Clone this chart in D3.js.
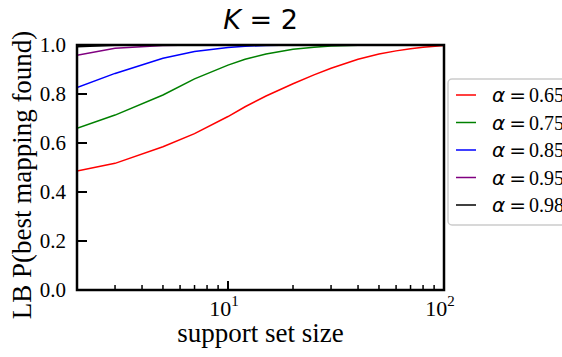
<!DOCTYPE html>
<html>
<head>
<meta charset="utf-8">
<script src="https://cdn.jsdelivr.net/npm/d3@7"></script>
<style>
  body { margin: 0; background: #fff; }
  svg { display: block; }
</style>
</head>
<body>
<div id="chart"></div>
<script>
// support set sizes sampled
const sizes = [2, 3, 5, 7, 10, 12, 15, 20, 25, 30, 40, 50, 60, 70, 80, 100];

// lower bound of P(best mapping found) per alpha
const p065 = [0.486, 0.517, 0.585, 0.638, 0.708, 0.748, 0.792, 0.842, 0.878, 0.905, 0.942, 0.963, 0.976, 0.985, 0.991, 0.998];
const p075 = [0.66, 0.714, 0.796, 0.862, 0.918, 0.942, 0.963, 0.983, 0.991, 0.996, 0.999, 1, 1, 1, 1, 1];
const p085 = [0.826, 0.884, 0.946, 0.973, 0.99, 0.995, 0.998, 1, 1, 1, 1, 1, 1, 1, 1, 1];
const p095 = [0.958, 0.987, 0.998, 1, 1, 1, 1, 1, 1, 1, 1, 1, 1, 1, 1, 1];
const p098 = [0.993, 0.999, 1, 1, 1, 1, 1, 1, 1, 1, 1, 1, 1, 1, 1, 1];

const seriesNames = ["0.65", "0.75", "0.85", "0.95", "0.98"];
const seriesValues = [p065, p075, p085, p095, p098];
const colors = ["#ff0000", "#008000", "#0000ff", "#800080", "#000000"];

const yTicks = [0, 0.2, 0.4, 0.6, 0.8, 1.0];
const xMajor = [10, 100];
const xMinor = [3, 4, 5, 6, 7, 8, 9, 20, 30, 40, 50, 60, 70, 80, 90];

const W = 562, H = 357;
const margin = { left: 77, right: 118, top: 45, bottom: 67 };
const width = W - margin.left - margin.right;
const height = H - margin.top - margin.bottom;

const svg = d3.select("#chart").append("svg")
    .attr("width", W)
    .attr("height", H);

const x = d3.scaleLog().domain([2, 100]).range([0, width]);
const y = d3.scaleLinear().domain([0, 1]).range([height, 0]);

const chart = svg.append("g")
    .attr("transform", `translate(${margin.left},${margin.top})`);

chart.append("clipPath").attr("id", "clip")
    .append("rect").attr("width", width).attr("height", height);

// curves
const line = d3.line()
    .x((d, i) => x(sizes[i]))
    .y(d => y(d));

chart.append("g").attr("clip-path", "url(#clip)")
    .selectAll("path")
    .data(seriesValues)
    .join("path")
    .attr("fill", "none")
    .attr("stroke", (d, i) => colors[i])
    .attr("stroke-width", 1.5)
    .attr("d", line);

// y ticks (inward)
chart.append("g").selectAll("line")
    .data(yTicks)
    .join("line")
    .attr("x1", 0).attr("x2", 10)
    .attr("y1", d => y(d)).attr("y2", d => y(d))
    .attr("stroke", "#000").attr("stroke-width", 2);

chart.append("g").selectAll("text")
    .data(yTicks)
    .join("text")
    .attr("x", -11)
    .attr("y", d => y(d))
    .attr("dy", "0.35em")
    .attr("text-anchor", "end")
    .attr("font-family", "Liberation Serif, serif")
    .attr("font-size", 21)
    .text(d => d.toFixed(1));

// x ticks (inward)
chart.append("g").selectAll("line")
    .data(xMajor)
    .join("line")
    .attr("x1", d => x(d)).attr("x2", d => x(d))
    .attr("y1", height).attr("y2", height - 9)
    .attr("stroke", "#000").attr("stroke-width", 2);

chart.append("g").selectAll("line")
    .data(xMinor)
    .join("line")
    .attr("x1", d => x(d)).attr("x2", d => x(d))
    .attr("y1", height).attr("y2", height - 5)
    .attr("stroke", "#000").attr("stroke-width", 1.5);

const xl = chart.append("g").selectAll("text")
    .data(xMajor)
    .join("text")
    .attr("x", d => x(d) - 4)
    .attr("y", height + 26)
    .attr("text-anchor", "middle")
    .attr("font-family", "Liberation Serif, serif")
    .attr("font-size", 22);
xl.append("tspan").text("10");
xl.append("tspan")
    .attr("dy", -10)
    .attr("font-size", 15)
    .text(d => Math.round(Math.log10(d)));

// frame
chart.append("rect")
    .attr("width", width).attr("height", height)
    .attr("fill", "none")
    .attr("stroke", "#000")
    .attr("stroke-width", 2.5);

// title
const title = svg.append("text")
    .attr("x", margin.left + width / 2)
    .attr("y", 29)
    .attr("text-anchor", "middle")
    .attr("font-family", "DejaVu Sans, sans-serif")
    .attr("font-size", 27);
title.append("tspan").attr("font-style", "italic").text("K");
title.append("tspan").text(" = 2");

// axis labels
svg.append("text")
    .attr("x", margin.left + width / 2)
    .attr("y", 342)
    .attr("text-anchor", "middle")
    .attr("font-family", "Liberation Serif, serif")
    .attr("font-size", 27)
    .text("support set size");

svg.append("text")
    .attr("transform", "translate(31,175) rotate(-90)")
    .attr("text-anchor", "middle")
    .attr("font-family", "Liberation Serif, serif")
    .attr("font-size", 27)
    .text("LB P(best mapping found)");

// legend
const legend = svg.append("g").attr("transform", "translate(448,79)");
legend.append("rect")
    .attr("width", 140).attr("height", 146)
    .attr("rx", 4)
    .attr("fill", "#fff")
    .attr("fill-opacity", 0.8)
    .attr("stroke", "#cccccc")
    .attr("stroke-width", 1.5);

const rows = legend.selectAll("g.row")
    .data(seriesNames)
    .join("g")
    .attr("class", "row")
    .attr("transform", (d, i) => `translate(0,${16 + i * 27.5})`);

rows.append("line")
    .attr("x1", 8).attr("x2", 28)
    .attr("stroke", (d, i) => colors[i])
    .attr("stroke-width", 1.5);

const lt = rows.append("text")
    .attr("x", 44)
    .attr("dy", "0.35em")
    .attr("font-size", 20);
lt.append("tspan")
    .attr("font-family", "DejaVu Sans, sans-serif")
    .attr("font-style", "italic")
    .text("α");
lt.append("tspan")
    .attr("dx", 4)
    .attr("font-family", "DejaVu Sans, sans-serif")
    .text("=");
lt.append("tspan")
    .attr("dx", 3)
    .attr("font-family", "Liberation Serif, serif")
    .text(d => d);
</script>
</body>
</html>
